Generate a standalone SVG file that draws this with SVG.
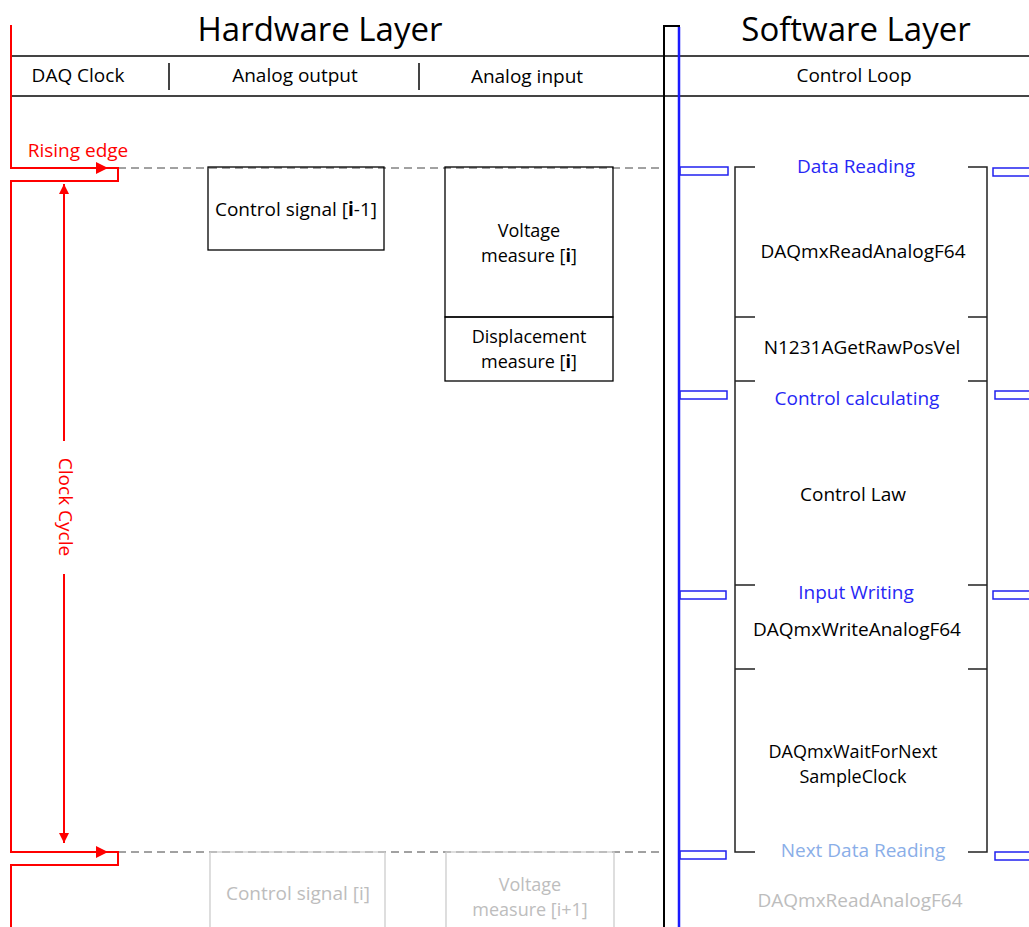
<svg xmlns="http://www.w3.org/2000/svg" width="1029" height="927" viewBox="0 0 1029 927">
<defs>
<style>
text{font-family:"Open Sans","Noto Sans",sans-serif;text-anchor:middle;dominant-baseline:central}
.t{font-size:19px;fill:#000}
.t2{font-size:18px;fill:#000}
.title{font-size:33px;fill:#000}
.blue{font-size:19px;fill:#2727f5}
.lblue{font-size:19px;fill:#8aaee8}
.gray{font-size:19px;fill:#bdbdbd}
.gray2{font-size:18px;fill:#bdbdbd}
.red{font-size:19px;fill:#ff0000}
.box{fill:none;stroke:#000;stroke-width:1.3}
.gbox{fill:none;stroke:#cccccc;stroke-width:1.3}
.brk{fill:none;stroke:#222;stroke-width:1.5}
.tab{fill:none;stroke:#2020f0;stroke-width:1.5}
.dash{stroke:#444;stroke-width:1;stroke-dasharray:8,5}
</style>
<marker id="ah" viewBox="0 0 10 10" refX="10" refY="5" markerWidth="10" markerHeight="10" markerUnits="userSpaceOnUse" orient="auto"><path d="M0,0 L10,5 L0,10 z" fill="#ff0000"/></marker>
<marker id="ar" viewBox="0 0 10 10" refX="10" refY="5" markerWidth="12" markerHeight="12" markerUnits="userSpaceOnUse" orient="auto"><path d="M0,0 L10,5 L0,10 z" fill="#ff0000"/></marker>
</defs>
<rect width="1029" height="927" fill="#fff"/>

<g id="titles">
<text class="title" x="320" y="28">Hardware Layer</text>
<text class="title" x="856" y="28">Software Layer</text>
</g>

<g id="header">
<line x1="11" y1="56" x2="1029" y2="56" stroke="#444" stroke-width="2"/>
<line x1="11" y1="96" x2="1029" y2="96" stroke="#444" stroke-width="2"/>
<line x1="11" y1="56" x2="11" y2="96" stroke="#444" stroke-width="2"/>
<line x1="169" y1="63" x2="169" y2="90" stroke="#444" stroke-width="2"/>
<line x1="419" y1="63" x2="419" y2="90" stroke="#444" stroke-width="2"/>
<text class="t" x="78" y="75">DAQ Clock</text>
<text class="t" x="295" y="75">Analog output</text>
<text class="t" x="527" y="76">Analog input</text>
<text class="t" x="854" y="75">Control Loop</text>
</g>

<g id="divider">
<path d="M679,927 V26 H664 V927" fill="none" stroke="#000" stroke-width="2"/>
<line x1="679" y1="27" x2="679" y2="927" stroke="#1a1aff" stroke-width="2.5"/>
</g>

<g id="connectors">
<line class="dash" x1="118" y1="168" x2="664" y2="168"/>
<line class="dash" x1="118" y1="852" x2="664" y2="852"/>
<path d="M11,25 V168 H118 V181 H11 V852 H118 V865 H11 V927" fill="none" stroke="#ff0000" stroke-width="2"/>
<line x1="11" y1="168" x2="108" y2="168" stroke="#ff0000" stroke-width="2" marker-end="url(#ar)"/>
<line x1="11" y1="852" x2="108" y2="852" stroke="#ff0000" stroke-width="2" marker-end="url(#ar)"/>
<line x1="64" y1="441" x2="64" y2="184" stroke="#ff0000" stroke-width="2" marker-end="url(#ah)"/>
<line x1="64" y1="574" x2="64" y2="843" stroke="#ff0000" stroke-width="2" marker-end="url(#ah)"/>
</g>

<g id="clock-labels">
<text class="red" x="78" y="150">Rising edge</text>
<text class="red" x="507" y="-66" transform="rotate(90)">Clock Cycle</text>
</g>

<g id="control-signal-prev">
<rect class="box" x="208" y="167" width="176" height="83"/>
<text class="t" x="296" y="209">Control signal [<tspan font-weight="bold">i</tspan>-1]</text>
</g>

<g id="voltage-measure">
<rect class="box" x="445" y="167" width="168" height="150"/>
<text class="t2" x="529" y="229.5">Voltage</text>
<text class="t2" x="529" y="254.5">measure [<tspan font-weight="bold">i</tspan>]</text>
</g>

<g id="displacement-measure">
<rect class="box" x="445" y="317" width="168" height="64"/>
<text class="t2" x="529" y="335.5">Displacement</text>
<text class="t2" x="529" y="360.5">measure [<tspan font-weight="bold">i</tspan>]</text>
</g>

<g id="control-signal-next">
<rect class="gbox" x="210" y="852" width="175" height="80"/>
<text class="gray" x="298" y="893">Control signal [i]</text>
</g>

<g id="voltage-measure-next">
<rect class="gbox" x="446" y="852" width="168" height="80"/>
<text class="gray2" x="530" y="883.5">Voltage</text>
<text class="gray2" x="530" y="908.5">measure [i+1]</text>
</g>

<g id="brackets">
<path class="brk" d="M755,167 H735 V852 H755"/>
<path class="brk" d="M968,167 H987 V852 H968"/>
<path class="brk" d="M735,317 H755 M735,381 H755 M735,585 H755 M735,669 H755"/>
<path class="brk" d="M968,317 H987 M968,381 H987 M968,585 H987 M968,669 H987"/>
</g>

<g id="tabs">
<rect class="tab" x="680" y="167" width="48" height="8"/>
<rect class="tab" x="993" y="168" width="40" height="8"/>
<rect class="tab" x="680" y="391" width="47" height="8"/>
<rect class="tab" x="995" y="391" width="40" height="8"/>
<rect class="tab" x="680" y="591" width="46" height="8"/>
<rect class="tab" x="993" y="591" width="40" height="8"/>
<rect class="tab" x="680" y="851" width="46" height="8"/>
<rect class="tab" x="995" y="852" width="40" height="8"/>
</g>

<g id="data-reading">
<text class="blue" x="856" y="166">Data Reading</text>
<text class="t" x="863" y="251">DAQmxReadAnalogF64</text>
</g>
<g id="get-raw-pos">
<text class="t" x="862" y="347">N1231AGetRawPosVel</text>
</g>
<g id="control-calculating">
<text class="blue" x="857" y="398">Control calculating</text>
<text class="t" x="853" y="494">Control Law</text>
</g>
<g id="input-writing">
<text class="blue" x="856" y="592">Input Writing</text>
<text class="t" x="857" y="629">DAQmxWriteAnalogF64</text>
</g>
<g id="wait-clock">
<text class="t2" x="853" y="750.5">DAQmxWaitForNext</text>
<text class="t2" x="853" y="775.5">SampleClock</text>
</g>
<g id="next-data-reading">
<text class="lblue" x="863" y="850">Next Data Reading</text>
<text class="gray" x="860" y="900">DAQmxReadAnalogF64</text>
</g>
</svg>
